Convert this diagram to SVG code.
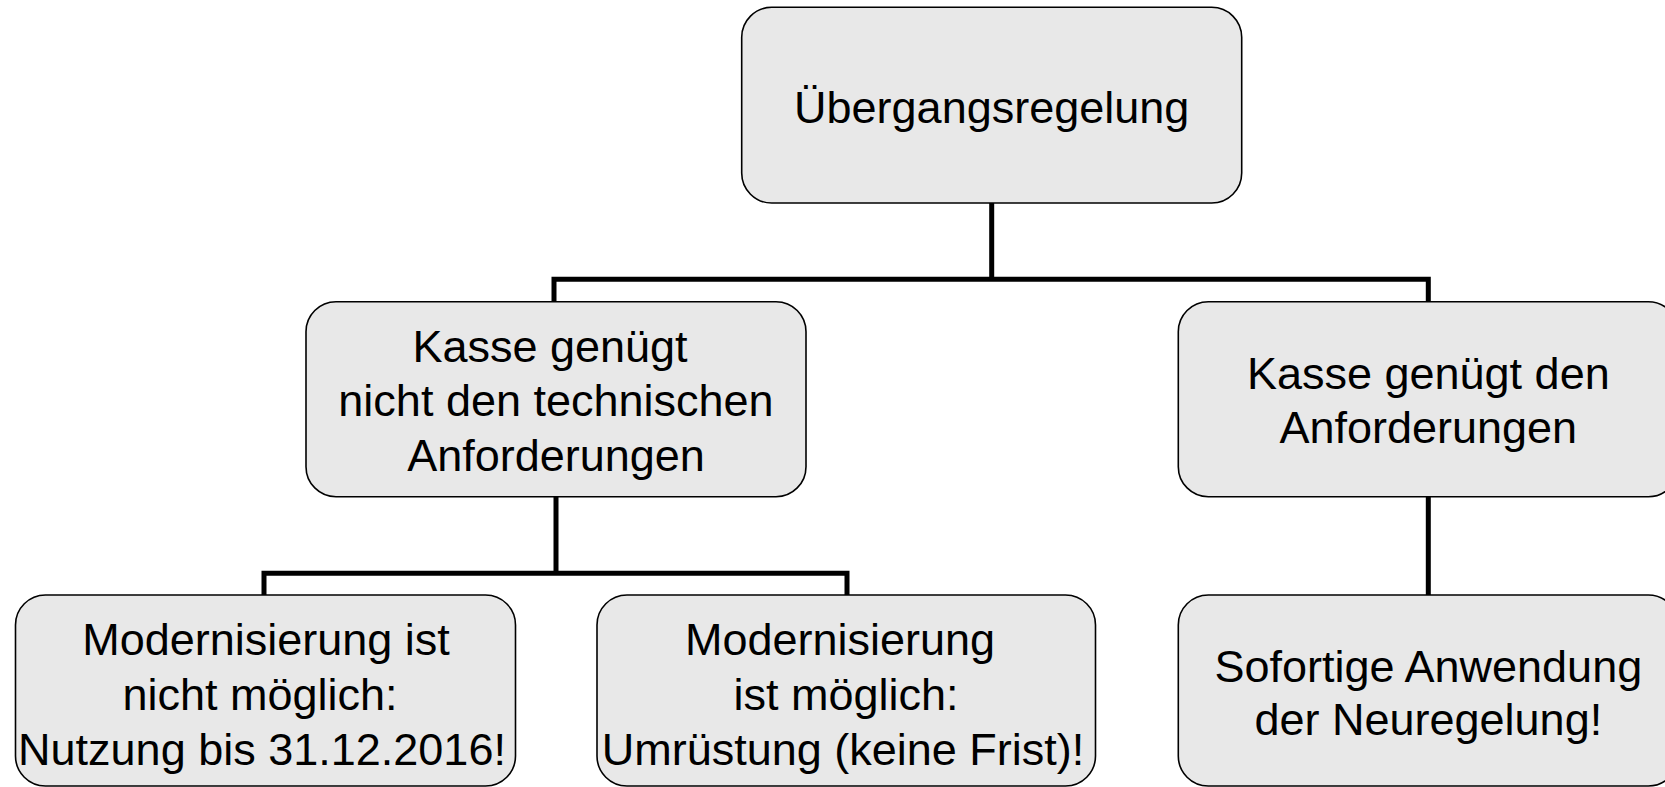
<svg xmlns="http://www.w3.org/2000/svg" width="1665" height="787" viewBox="0 0 1665 787">
<style>
.box{fill:#e8e8e8;stroke:#000;stroke-width:1.6}
.t{font-family:"Liberation Sans",Arial,sans-serif;font-size:45px;fill:#000;text-anchor:middle}
.c{fill:none;stroke:#000;stroke-width:5;stroke-linecap:butt;stroke-linejoin:miter}
</style>
<rect width="1665" height="787" fill="#fff"/>
<g id="connectors">
<path class="c" d="M991.7 203 V279.3 M554 301.7 V279.3 H1428.3 V301.7"/>
<path class="c" d="M556 496.7 V573.3 M264 595 V573.3 H847 V595"/>
<path class="c" d="M1428.3 496.7 V595"/>
</g>
<g id="n-root">
<rect class="box" x="741.7" y="7.3" width="500" height="195.7" rx="30"/>
<text class="t" x="991.7" y="123.3">Übergangsregelung</text>
</g>
<g id="n-nicht">
<rect class="box" x="306" y="301.7" width="500" height="195" rx="30"/>
<text class="t" x="550" y="361.7">Kasse genügt</text>
<text class="t" x="556" y="416">nicht den technischen</text>
<text class="t" x="556" y="471">Anforderungen</text>
</g>
<g id="n-genuegt">
<rect class="box" x="1178.3" y="301.7" width="500" height="195" rx="30"/>
<text class="t" x="1428.3" y="389.3">Kasse genügt den</text>
<text class="t" x="1428.3" y="443.3">Anforderungen</text>
</g>
<g id="n-nicht-moeglich">
<rect class="box" x="15.5" y="595" width="500" height="191" rx="30"/>
<text class="t" x="266" y="655">Modernisierung ist</text>
<text class="t" x="260" y="710">nicht möglich:</text>
<text class="t" x="262" y="765">Nutzung bis 31.12.2016!</text>
</g>
<g id="n-moeglich">
<rect class="box" x="597" y="595" width="498.5" height="191" rx="30"/>
<text class="t" x="840" y="655">Modernisierung</text>
<text class="t" x="846" y="710">ist möglich:</text>
<text class="t" x="843" y="765">Umrüstung (keine Frist)!</text>
</g>
<g id="n-sofort">
<rect class="box" x="1178.3" y="595" width="500" height="191" rx="30"/>
<text class="t" x="1428.3" y="681.7">Sofortige Anwendung</text>
<text class="t" x="1428.3" y="735">der Neuregelung!</text>
</g>
</svg>
